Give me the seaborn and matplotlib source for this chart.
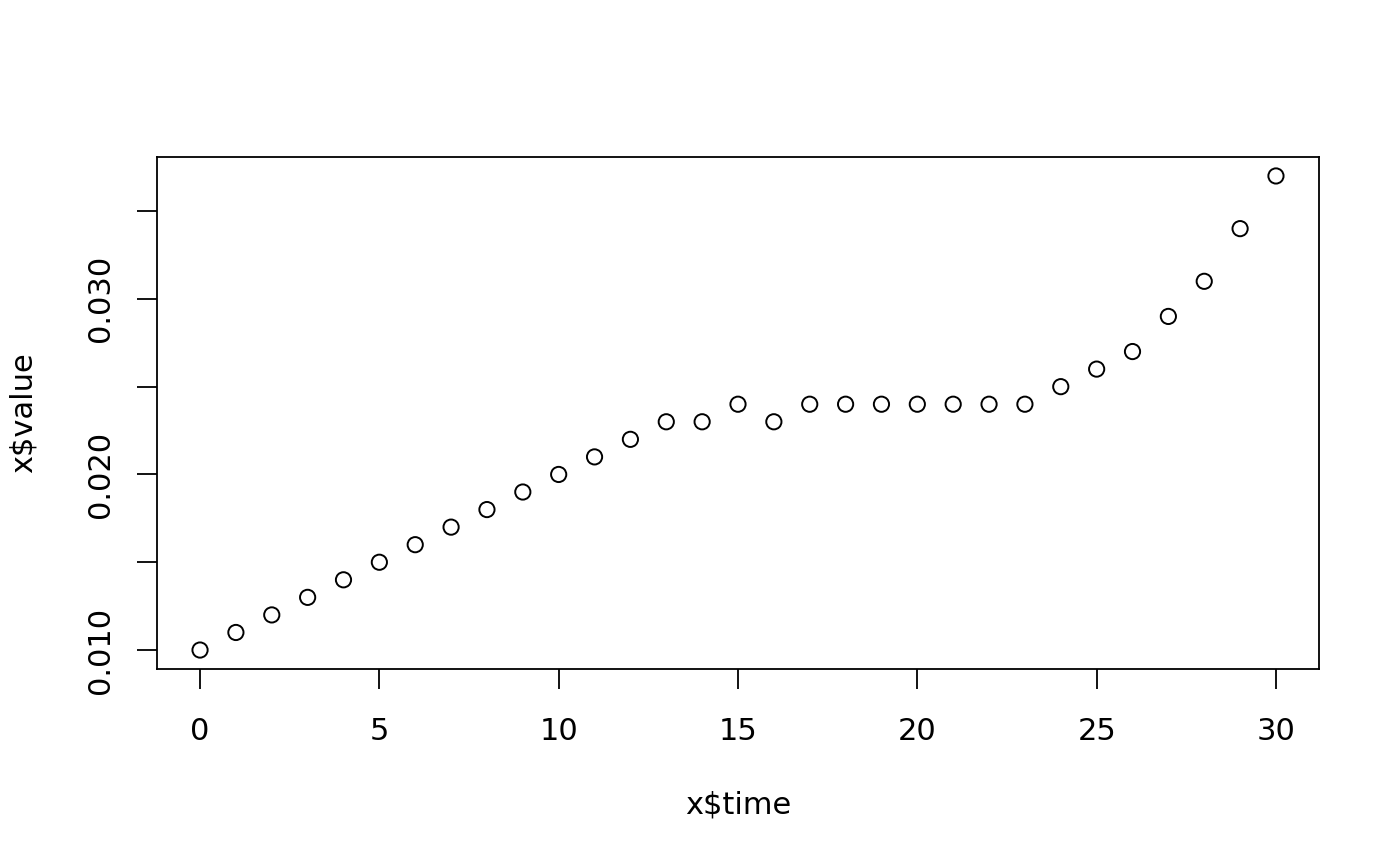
import numpy as np
import pandas as pd
import matplotlib
matplotlib.use("Agg")
import matplotlib.pyplot as plt
import seaborn as sns
from matplotlib.ticker import FixedLocator, FixedFormatter

# --- DATA ---
time = list(range(31))
value = [0.010, 0.011, 0.012, 0.013, 0.014, 0.015, 0.016, 0.017, 0.018, 0.019,
         0.020, 0.021, 0.022, 0.023, 0.023, 0.024, 0.023, 0.024, 0.024, 0.024,
         0.024, 0.024, 0.024, 0.024, 0.025, 0.026, 0.027, 0.029, 0.031, 0.034,
         0.037]
x_ticks = [0, 5, 10, 15, 20, 25, 30]
y_ticks = [0.010, 0.015, 0.020, 0.025, 0.030, 0.035]
y_labels = ["0.010", "", "0.020", "", "0.030", ""]

df = pd.DataFrame({"time": time, "value": value})

sns.set_style("white")
plt.rcParams["font.family"] = ["DejaVu Sans"]
plt.rcParams["text.color"] = "black"
plt.rcParams["axes.labelcolor"] = "black"

fig = plt.figure(figsize=(14, 8.66), dpi=100)
ax = fig.add_axes([157 / 1400, 1 - 669 / 866, 1162 / 1400, 512 / 866])

sns.scatterplot(data=df, x="time", y="value", ax=ax, s=120,
                facecolor="none", edgecolor="black", linewidth=1.4, legend=False)

# R style 4% padding
ax.set_xlim(-1.2, 31.2)
ax.set_ylim(0.00892, 0.03808)

ax.xaxis.set_major_locator(FixedLocator(x_ticks))
ax.yaxis.set_major_locator(FixedLocator(y_ticks))
ax.yaxis.set_major_formatter(FixedFormatter(y_labels))

ax.tick_params(axis="both", direction="out", length=14.5, width=1.3, color="black",
               labelsize=22, labelcolor="black", bottom=True, left=True)
ax.tick_params(axis="x", pad=20)
ax.tick_params(axis="y", pad=16, labelrotation=90)
for lbl in ax.get_yticklabels():
    lbl.set_va("center")

for sp in ax.spines.values():
    sp.set_visible(True)
    sp.set_color("black")
    sp.set_linewidth(1.3)

ax.set_xlabel("x$time", fontsize=22, color="black")
ax.set_ylabel("x$value", fontsize=22, color="black")
ax.xaxis.label.set_va("center")
ax.yaxis.label.set_va("center")
ax.xaxis.set_label_coords(0.5, (669 - 805) / 512)
ax.yaxis.set_label_coords((23 - 157) / 1162, 0.5)

plt.savefig("out.png", dpi=100)
